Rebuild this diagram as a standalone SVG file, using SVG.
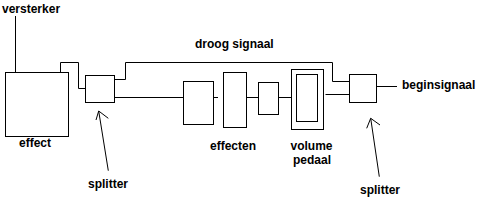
<svg xmlns="http://www.w3.org/2000/svg" width="477" height="200" viewBox="0 0 477 200">
<style>
.b{fill:#fff;stroke:#000;stroke-width:1}
.l{fill:none;stroke:#000;stroke-width:1}
text{font-family:"Liberation Sans",Arial,sans-serif;font-size:12px;font-weight:bold;fill:#000}
</style>
<rect width="477" height="200" fill="#fff"/>
<g id="connectors">
<polyline class="l" points="15.5,16 15.5,72.5"/>
<polyline class="l" points="60.5,72.5 60.5,62.5 78.5,62.5 78.5,88.5 85.5,88.5"/>
<polyline class="l" points="114.5,79.5 125.5,79.5 125.5,62.5 332.5,62.5 332.5,81.5 349.5,81.5"/>
<polyline class="l" points="111,97.5 183.5,97.5"/>
<polyline class="l" points="213.5,97.5 218,97.5"/>
<polyline class="l" points="246.5,97.5 258.5,97.5"/>
<polyline class="l" points="278.5,97.5 291.5,97.5"/>
<polyline class="l" points="325.5,94.5 349.5,94.5"/>
<polyline class="l" points="376.5,86.5 397,86.5"/>
<polyline class="l" points="108.3,170.7 98.7,111"/>
<polyline class="l" points="96,120 98.7,111 108.3,118.3"/>
<polyline class="l" points="379.3,176.7 370.7,118.3"/>
<polyline class="l" points="366.7,128.3 370.7,118.3 380,125"/>
</g>
<g id="effect"><rect class="b" x="5.5" y="72.5" width="63" height="64"/><text x="35" y="147" text-anchor="middle">effect</text></g>
<g id="splitter1"><rect class="b" x="85.5" y="75.5" width="29" height="27"/></g>
<g id="box1"><rect class="b" x="183.5" y="81.5" width="30" height="43"/></g>
<g id="box2"><rect class="b" x="223.5" y="72.5" width="23" height="55"/></g>
<g id="box3"><rect class="b" x="258.5" y="82.5" width="20" height="32"/></g>
<g id="volumepedaal"><rect class="b" x="291.5" y="69.5" width="32" height="60"/><rect class="b" x="296.5" y="74.5" width="21" height="47"/></g>
<g id="splitter2"><rect class="b" x="349.5" y="74.5" width="27" height="28"/></g>
<g id="labels">
<text x="2" y="13">versterker</text>
<text x="195" y="48">droog signaal</text>
<text x="402" y="89">beginsignaal</text>
<text x="233" y="150" text-anchor="middle">effecten</text>
<text x="311.5" y="150" text-anchor="middle">volume</text>
<text x="312" y="164" text-anchor="middle">pedaal</text>
<text x="108" y="188" text-anchor="middle">splitter</text>
<text x="380" y="194" text-anchor="middle">splitter</text>
</g>
</svg>
